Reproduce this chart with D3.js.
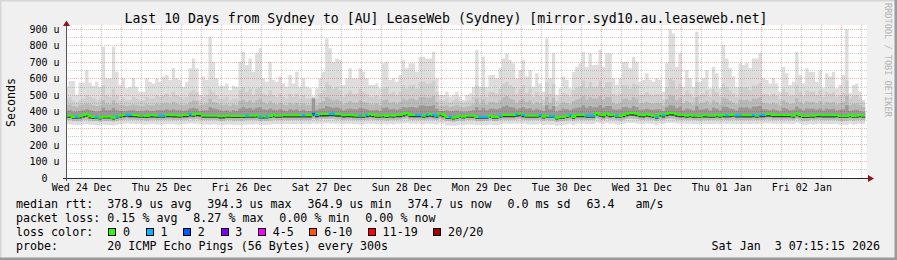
<!DOCTYPE html>
<html>
<head>
<meta charset="utf-8">
<script src="https://cdn.jsdelivr.net/npm/d3@7"></script>
<style>
html, body { margin: 0; padding: 0; background: #f0f0f0; }
svg text { font-family: "DejaVu Sans Mono", monospace; white-space: pre; }
</style>
</head>
<body>
<div id="chart"></div>
<script>
// ---- data (hourly buckets, microseconds) ----
const title = "Last 10 Days from Sydney to [AU] LeaseWeb (Sydney) [mirror.syd10.au.leaseweb.net]";
const yTicks = [0, 100, 200, 300, 400, 500, 600, 700, 800, 900];
const yTickLabels = ["  0", "100 u", "200 u", "300 u", "400 u", "500 u", "600 u", "700 u", "800 u", "900 u"];
const dayLabels = ["Wed 24 Dec", "Thu 25 Dec", "Fri 26 Dec", "Sat 27 Dec", "Sun 28 Dec",
                   "Mon 29 Dec", "Tue 30 Dec", "Wed 31 Dec", "Thu 01 Jan", "Fri 02 Jan"];

const pingMax = [
  552,586,586,502,578,578,653,578,558,582, 552,794,603,603,794,643,560,603,542,552,
  603,552,522,522,603,582,572,603,582,613, 623,592,663,603,592,552,582,663,723,663,
  502,613,592,854,703,603,558,558,572,532, 558,552,703,764,683,723,643,754,784,603,
  582,703,592,582,613,572,552,623,572,643, 552,603,552,542,492,542,603,643,844,784,
  703,723,713,562,603,663,603,603,663,643, 603,562,562,572,542,693,703,592,603,582,
  623,713,663,693,693,643,733,733,723,723, 764,603,502,502,522,492,502,522,492,472,
  502,512,552,774,552,733,552,623,623,603, 663,723,754,713,693,603,653,713,613,653,
  552,633,572,522,844,603,754,502,542,613, 592,542,643,673,693,764,673,754,683,683,
  774,673,754,754,603,562,603,703,703,663, 733,703,582,592,633,592,582,603,592,522,
  693,900,874,673,754,552,653,603,552,884, 582,603,653,542,673,633,542,804,723,663,
  613,552,693,683,693,663,723,723,754,603, 592,572,603,572,522,673,633,562,582,764,
  623,572,663,643,643,582,653,542,633,613, 643,542,562,623,900,512,562,572,522,472
];
const pingHi2 = [
  480,490,470,460,470,480,500,490,480,470, 480,560,500,490,540,500,470,480,470,470,
  490,480,470,470,490,480,480,500,490,500, 510,490,520,500,490,480,490,520,530,520,
  470,490,500,540,520,500,480,480,490,470, 480,480,530,550,520,540,500,540,550,510,
  500,530,500,490,510,490,480,510,490,510, 480,500,480,480,488,480,510,530,580,560,
  540,550,530,490,510,530,510,510,540,520, 510,490,490,500,480,540,550,510,520,500,
  520,560,540,560,560,540,580,580,570,570, 590,520,470,470,480,460,470,480,465,455,
  465,470,490,560,490,550,490,520,520,510, 540,570,580,560,550,510,540,560,515,540,
  490,520,500,475,580,510,570,465,490,515, 505,490,530,545,555,590,545,580,550,550,
  590,545,580,580,510,495,510,560,560,540, 570,560,500,505,520,505,500,510,505,475,
  550,600,590,540,570,500,530,510,490,580, 500,510,530,490,540,520,490,570,550,530,
  510,490,550,545,550,530,560,560,575,510, 505,495,510,495,475,540,520,495,500,560,
  520,495,530,520,520,500,530,490,520,510, 520,490,500,515,590,480,495,500,480,460
];
const pingHi3 = [
  440,445,435,430,440,445,450,445,440,435, 440,470,450,445,470,450,440,440,435,440,
  445,440,435,435,445,440,440,450,445,450, 455,445,460,450,445,440,445,460,470,465,
  440,445,450,480,460,455,445,440,445,435, 445,440,465,475,460,470,455,470,480,460,
  450,465,450,445,455,445,440,455,445,455, 440,450,440,440,484,440,455,465,490,480,
  470,475,465,445,455,465,455,455,470,460, 455,445,445,450,440,470,475,455,460,450,
  460,480,470,480,480,470,490,490,485,485, 495,460,435,435,440,430,435,440,432,428,
  432,435,445,480,445,475,445,460,460,455, 470,485,495,480,475,455,470,480,458,470,
  445,460,450,438,490,455,485,432,445,458, 452,445,465,475,480,495,475,490,480,480,
  495,475,490,490,455,448,455,480,480,470, 488,480,450,452,460,452,450,455,452,438,
  475,500,495,470,485,450,465,455,445,490, 450,455,465,445,470,460,445,485,480,465,
  455,445,475,472,475,465,480,480,488,455, 452,448,455,448,438,470,460,448,450,482,
  460,448,465,460,460,450,465,445,460,455, 460,445,450,458,495,440,448,450,440,430
];
const pingHi4 = [
  405,410,400,400,405,410,415,410,405,400, 405,425,410,410,425,410,405,405,405,410,
  410,405,405,405,410,405,405,410,410,410, 415,410,415,410,410,405,410,420,425,420,
  405,410,410,430,420,415,410,405,410,400, 410,405,420,430,420,425,415,425,430,415,
  412,420,412,410,415,410,405,415,410,415, 405,412,405,405,478,410,418,422,435,430,
  425,428,422,410,415,420,415,415,425,420, 415,410,410,412,405,425,428,415,418,412,
  418,430,425,430,430,425,438,438,435,435, 440,418,405,405,408,402,405,408,402,400,
  402,405,410,430,410,425,410,418,418,415, 422,432,438,430,428,415,422,430,418,422,
  410,418,412,405,440,415,435,402,410,418, 415,410,420,425,428,440,425,435,428,428,
  440,425,435,435,415,412,415,430,430,422, 435,430,412,414,418,414,412,415,414,405,
  428,440,438,422,432,410,420,415,408,436, 412,415,420,408,425,418,408,432,430,420,
  415,408,428,426,428,420,432,432,436,415, 414,410,415,410,404,425,418,410,412,432,
  418,410,420,418,418,412,420,408,418,415, 418,408,412,416,440,405,410,412,405,400
];
const median = [
  377,377,369,369,373,379,385,373,369,367, 365,371,371,371,365,371,377,381,383,381,
  381,379,377,377,375,379,379,377,377,377, 381,381,379,379,377,381,381,387,383,389,
  387,377,377,377,377,377,373,373,377,377, 375,375,375,375,377,377,377,379,371,373,
  371,375,381,377,377,379,379,379,379,379, 379,379,379,379,389,381,387,387,387,389,
  389,385,385,379,381,381,379,377,377,377, 381,385,381,377,377,379,375,379,377,381,
  381,387,393,381,381,381,381,377,381,385, 381,377,389,381,369,369,365,369,375,371,
  377,377,377,369,369,369,369,377,369,369, 377,381,381,381,381,385,389,381,377,377,
  377,377,381,371,377,373,373,365,369,369, 375,381,369,381,381,381,377,377,377,393,
  383,379,389,381,383,377,373,381,389,393, 391,389,381,379,385,381,377,369,387,379,
  389,393,391,385,381,381,377,381,377,377, 373,379,379,377,377,381,377,381,379,381,
  383,379,379,379,379,379,381,377,381,381, 385,385,381,381,381,381,381,381,377,389,
  381,375,375,377,377,381,381,379,379,379, 379,381,373,373,373,381,373,377,381,377
];
const pingLo4 = [
  364,364,358,358,360,366,370,360,356,356, 354,360,360,360,354,360,364,368,370,368,
  368,366,364,364,362,366,366,364,364,364, 368,368,366,366,364,368,368,372,370,374,
  372,364,364,364,364,364,360,360,364,364, 362,362,362,362,364,364,364,366,360,360,
  360,362,368,364,364,366,366,366,366,366, 366,366,366,366,374,368,372,372,372,374,
  374,370,370,366,368,368,366,364,364,364, 368,370,368,364,364,366,362,366,364,368,
  368,372,378,368,368,368,368,364,368,370, 368,364,374,368,358,358,354,358,362,360,
  364,364,364,358,358,358,358,364,358,358, 364,368,368,368,368,370,374,368,364,364,
  364,364,368,360,364,362,362,354,358,358, 362,368,358,368,368,368,364,364,364,378,
  370,366,374,368,370,364,362,368,374,378, 376,374,368,366,370,368,364,358,372,366,
  374,378,376,370,368,368,364,368,364,364, 362,366,366,364,364,368,364,368,366,368,
  370,366,366,366,366,366,368,364,368,368, 370,370,368,368,368,368,368,368,364,374,
  368,362,362,364,364,368,368,366,366,366, 366,368,362,362,362,368,362,364,368,364
];
const pingLo3 = [
  350,350,346,344,346,350,352,348,344,344, 342,346,346,346,342,346,350,352,354,352,
  352,350,350,350,348,350,350,350,350,350, 352,352,350,350,350,352,352,356,354,356,
  352,350,350,350,350,350,346,346,350,350, 348,348,348,348,350,350,350,350,344,346,
  346,348,352,350,350,350,350,350,350,350, 350,350,350,350,356,352,356,356,356,358,
  358,354,354,350,352,352,350,350,350,350, 352,354,352,350,350,350,348,350,350,352,
  352,356,360,352,352,352,352,350,352,354, 352,350,356,352,344,344,340,344,348,346,
  350,350,350,344,344,344,344,350,344,344, 350,352,352,352,352,354,356,352,350,350,
  350,350,352,346,350,348,348,340,344,344, 348,352,344,352,352,352,350,350,350,360,
  354,350,356,352,354,350,348,352,356,360, 358,356,352,350,354,352,350,344,354,350,
  356,360,358,354,352,352,350,352,350,350, 348,350,350,350,350,352,350,352,350,352,
  354,350,350,350,350,350,352,350,352,352, 354,354,352,352,352,352,352,352,350,356,
  352,346,346,350,350,352,352,350,350,350, 350,352,346,346,346,352,346,350,352,350
];
const pingMin = [
  326,324,322,320,322,324,326,322,320,320, 318,322,322,320,318,322,326,328,328,328,
  328,326,326,324,324,326,326,324,324,324, 326,326,326,324,324,326,328,330,328,330,
  326,324,324,322,324,324,322,322,324,324, 322,322,322,322,324,324,324,326,320,322,
  322,324,326,326,326,326,326,326,326,326, 326,326,326,326,330,328,330,330,330,330,
  330,328,328,326,328,328,326,326,324,324, 328,328,328,326,324,326,324,326,324,328,
  328,330,332,328,328,328,328,324,328,328, 326,324,330,328,318,318,316,318,322,320,
  324,324,324,320,320,320,320,324,320,320, 324,328,328,328,328,328,330,328,324,324,
  324,324,328,320,324,322,322,316,320,320, 324,328,320,328,328,328,326,326,326,334,
  330,326,332,328,330,324,322,326,332,334, 332,330,328,326,330,328,326,320,330,326,
  332,334,332,330,328,328,326,328,326,326, 322,326,326,326,326,328,326,328,326,328,
  328,326,326,326,326,326,328,326,328,328, 330,330,328,328,328,328,328,328,326,334,
  328,322,322,326,324,326,328,326,326,326, 326,328,322,322,322,328,322,326,328,326
];
// hours with lost pings (index into the arrays above)
const loss1 = [3,9,15,18,19,28,29,37,54,58,60,71,75,79,80,88,90,105,106,108,110,111,115,
               124,125,126,130,135,137,142,145,146,151,156,157,158,165,177,179,198,201,202,206,208,209];
const loss2 = [74];

const lossLabels = ["0", "1", "2", "3", "4-5", "6-10", "11-19", "20/20"];
const lossColors = ["#26ff00", "#00b8ff", "#0059ff", "#7e00ff", "#ff00ff", "#ff5500", "#ff0000", "#a10000"];
const rttLegend = ["378.9 us avg", "394.3 us max", "364.9 us min", "374.7 us now", "0.0 ms sd", "63.4   am/s"];
const lossLegend = ["0.15 % avg", "8.27 % max", "0.00 % min", "0.00 % now"];
const probeText = "20 ICMP Echo Pings (56 Bytes) every 300s";
const stampText = "Sat Jan  3 07:15:15 2026";

// ---- layout ----
const W = 897, H = 260;
const plot = { left: 66, right: 866, top: 25, bottom: 178 };
const tStart = new Date(Date.UTC(2025, 11, 24, 7, 15, 15));
const tEnd = new Date(Date.UTC(2026, 0, 3, 7, 15, 15));
const bucket0 = Date.UTC(2025, 11, 24, 7, 0, 0);
const charW = 7.02;

const x = d3.scaleUtc().domain([tStart, tEnd]).range([plot.left, plot.right]);
const y = d3.scaleLinear().domain([0, 925]).range([plot.bottom, plot.top]);
const px = v => Math.floor(v) + 0.5;

const svg = d3.select("#chart").append("svg")
    .attr("width", W).attr("height", H)
    .attr("viewBox", `0 0 ${W} ${H}`);

// frame
svg.append("rect").attr("width", W).attr("height", H).attr("fill", "#f0f0f0");
svg.append("path").attr("d", `M0,${H} V0 H${W}`).attr("stroke", "#d6d6d6").attr("stroke-width", 3).attr("fill", "none");
svg.append("path").attr("d", `M0,${H - 1} H${W - 1} V0`).attr("stroke", "#9a9a9a").attr("stroke-width", 3).attr("fill", "none");

svg.append("rect")
    .attr("x", plot.left).attr("y", plot.top)
    .attr("width", plot.right - plot.left + 1).attr("height", plot.bottom - plot.top)
    .attr("fill", "#ffffff");

svg.append("clipPath").attr("id", "clip")
    .append("rect")
    .attr("x", plot.left).attr("y", plot.top)
    .attr("width", plot.right - plot.left).attr("height", plot.bottom - plot.top);

const g = svg.append("g").attr("clip-path", "url(#clip)");

// smoke
const n = median.length;
const idx = d3.range(n + 1);
const tx = i => x(new Date(bucket0 + i * 3600e3));
const layers = [
    { lo: pingMin, hi: pingMax, color: "#dddddd" },
    { lo: pingLo3, hi: pingHi2, color: "#cecece" },
    { lo: pingLo3, hi: pingHi3, color: "#b9b9b9" },
    { lo: pingLo4, hi: pingHi4, color: "#989898" },
    { lo: pingLo4, hi: median, color: "#3c3c3c" }
];
layers.forEach(l => {
    const area = d3.area()
        .curve(d3.curveStepAfter)
        .x(i => tx(i))
        .y0(i => y(l.lo[Math.min(i, n - 1)]))
        .y1(i => y(l.hi[Math.min(i, n - 1)]));
    g.append("path").attr("d", area(idx)).attr("fill", l.color);
});

// grid (on top of the smoke)
const grid = svg.append("g").attr("fill", "none").attr("stroke-dasharray", "1,1");
for (let v = 50; v <= 900; v += 50) {
    grid.append("line")
        .attr("x1", plot.left).attr("x2", plot.right + 2)
        .attr("y1", px(y(v))).attr("y2", px(y(v)))
        .attr("stroke", v % 100 === 0 ? "rgba(225,40,40,0.35)" : "rgba(140,140,140,0.42)");
}
d3.utcHour.every(6).range(tStart, tEnd).forEach(t => {
    const major = t.getUTCHours() === 0;
    grid.append("line")
        .attr("x1", px(x(t))).attr("x2", px(x(t)))
        .attr("y1", plot.top).attr("y2", plot.bottom)
        .attr("stroke", major ? "rgba(225,40,40,0.35)" : "rgba(140,140,140,0.42)");
});

// median line, coloured by loss
const medLine = d3.line().curve(d3.curveStepAfter)
    .x(i => tx(i))
    .y(i => y(median[Math.min(i, n - 1)]));
g.append("path").attr("d", medLine(idx))
    .attr("fill", "none").attr("stroke", lossColors[0]).attr("stroke-width", 2);
[[loss1, lossColors[1]], [loss2, lossColors[2]]].forEach(([list, c]) => {
    g.selectAll(null).data(list).join("line")
        .attr("x1", i => tx(i)).attr("x2", i => tx(i + 1))
        .attr("y1", i => y(median[i])).attr("y2", i => y(median[i]))
        .attr("stroke", c).attr("stroke-width", 2);
});

// axes
const axisCol = "#2a2a2a", arrowCol = "#8b1414";
svg.append("line").attr("x1", 63).attr("x2", 868).attr("y1", 178.5).attr("y2", 178.5).attr("stroke", axisCol);
svg.append("line").attr("x1", 66.5).attr("x2", 66.5).attr("y1", 181).attr("y2", 24).attr("stroke", "#555");
svg.append("path").attr("d", "M868,175 L874,178.5 L868,182 Z").attr("fill", arrowCol);
svg.append("path").attr("d", "M63,26 L66.5,20.5 L70,26 Z").attr("fill", arrowCol);

// y labels
svg.append("g").selectAll("text").data(yTicks).join("text")
    .attr("x", 59.5).attr("y", d => y(d) + 3.6)
    .attr("text-anchor", "end").attr("font-size", 10)
    .text((d, i) => yTickLabels[i] + (d === 0 ? "  " : ""));

// x labels at noon
svg.append("g").selectAll("text").data(dayLabels).join("text")
    .attr("x", (d, i) => x(new Date(Date.UTC(2025, 11, 24 + i, 12))))
    .attr("y", 190.5)
    .attr("text-anchor", "middle").attr("font-size", 10)
    .text(d => d);

// title and side labels
svg.append("text").attr("x", 446).attr("y", 23).attr("text-anchor", "middle")
    .attr("font-size", 13.2).text(title);
svg.append("text").attr("transform", "translate(15,102.5) rotate(-90)")
    .attr("text-anchor", "middle").attr("font-size", 11.66).text("Seconds");
svg.append("text").attr("transform", "translate(884.5,3) rotate(90)")
    .attr("font-size", 8.6).attr("fill", "#b4b4b4").text("RRDTOOL / TOBI OETIKER");

// legend
const legend = svg.append("g").attr("font-size", 11.66).attr("fill", "#000");
const row = (label, items, yy) => {
    legend.append("text").attr("x", 16).attr("y", yy).text(label);
    let cx = 107.3;
    items.forEach(s => {
        legend.append("text").attr("x", cx).attr("y", yy).text(s);
        cx += s.length * charW + 15.8;
    });
};
row("median rtt:", rttLegend, 208);
row("packet loss:", lossLegend, 222);

legend.append("text").attr("x", 16).attr("y", 236).text("loss color:");
let bx = 108.3;
lossLabels.forEach((l, i) => {
    legend.append("rect").attr("x", Math.round(bx) + 0.5).attr("y", 228.5)
        .attr("width", 7).attr("height", 7)
        .attr("fill", lossColors[i]).attr("stroke", "#000");
    legend.append("text").attr("x", bx + 14.7).attr("y", 236).text(l);
    bx += 14.7 + l.length * charW + 15.7;
});

legend.append("text").attr("x", 16).attr("y", 250).text("probe:");
legend.append("text").attr("x", 107.3).attr("y", 250).text(probeText);
legend.append("text").attr("x", 880).attr("y", 250).attr("text-anchor", "end").text(stampText);
</script>
</body>
</html>
